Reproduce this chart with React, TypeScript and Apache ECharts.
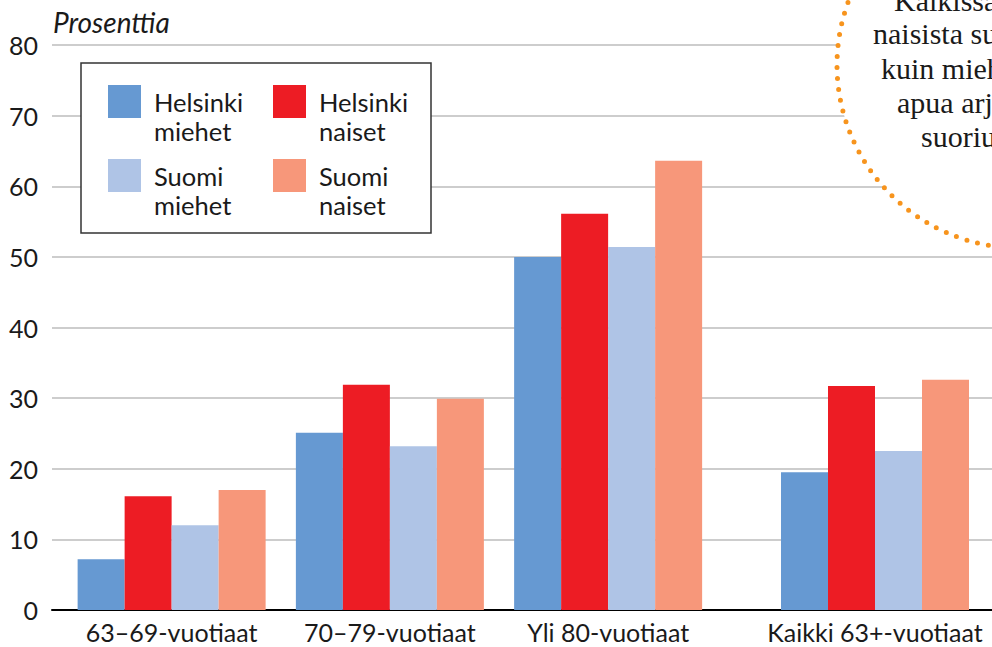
import React, { useEffect, useRef } from 'react';
import * as echarts from 'echarts';

const categories = ['63–69-vuotiaat', '70–79-vuotiaat', 'Yli 80-vuotiaat', 'Kaikki 63+-vuotiaat'];
const seriesNames = ['Helsinki miehet', 'Helsinki naiset', 'Suomi miehet', 'Suomi naiset'];
const helsinkiMiehet = [7.2, 25.1, 50.0, 19.5];
const helsinkiNaiset = [16.1, 31.9, 56.1, 31.7];
const suomiMiehet = [12.0, 23.2, 51.4, 22.5];
const suomiNaiset = [17.0, 29.9, 63.6, 32.6];
const yMin = 0;
const yMax = 80;
const yInterval = 10;
const yAxisTitle = 'Prosenttia';
const noteLines = [
  'Kaikissa ikäryhmissä',
  'naisista suurempi osa',
  'kuin miehistä tarvitsi',
  'apua arjen toimista',
  'suoriutumiseen.',
];

const colors = ['#6699D2', '#ED1C24', '#AFC4E6', '#F7977A'];
const FONT = 'Lato, "Noto Sans", sans-serif';
const TXT = '#1a1a1a';

export default function App() {
  const ref = useRef<HTMLDivElement>(null);
  useEffect(() => {
    document.body.style.margin = '0';
    if (!ref.current) return;
    const chart = echarts.init(ref.current, null, { renderer: 'svg' });
    const values = [helsinkiMiehet, helsinkiNaiset, suomiMiehet, suomiNaiset];
    const series: any[] = [];
    values.forEach((arr, i) => {
      series.push({
        type: 'bar',
        name: seriesNames[i],
        data: arr.slice(0, 3),
        xAxisIndex: 1,
        yAxisIndex: 1,
        barWidth: 47,
        barGap: '0%',
        itemStyle: { color: colors[i] },
        z: 2,
      });
      series.push({
        type: 'bar',
        name: seriesNames[i],
        data: arr.slice(3),
        xAxisIndex: 2,
        yAxisIndex: 2,
        barWidth: 47,
        barGap: '0%',
        itemStyle: { color: colors[i] },
        z: 2,
      });
    });

    const legendPos = [
      { left: 108, top: 58 },
      { left: 273, top: 58 },
      { left: 108, top: 132 },
      { left: 273, top: 132 },
    ];
    const legends = seriesNames.map((n, i) => ({
      data: [n],
      left: legendPos[i].left,
      top: legendPos[i].top,
      padding: 0,
      itemWidth: 33,
      itemHeight: 33,
      icon: 'rect',
      selectedMode: false,
      formatter: (name: string) => '\u00a0\n' + name.replace(' ', '\n'),
      textStyle: {
        fontFamily: FONT,
        fontSize: 25.5,
        lineHeight: 29,
        color: TXT,
        padding: [0, 0, 0, 8],
      },
      z: 5,
    }));

    const hiddenY = (gi: number) => ({
      type: 'value',
      gridIndex: gi,
      min: yMin,
      max: yMax,
      interval: yInterval,
      show: false,
    });
    const catX = (gi: number, data: string[]) => ({
      type: 'category',
      gridIndex: gi,
      data,
      axisLine: { show: false },
      axisTick: { show: false },
      axisLabel: {
        fontFamily: FONT,
        fontSize: 25,
        lineHeight: 25,
        color: TXT,
        margin: 9,
        interval: 0,
      },
    });

    chart.setOption({
      animation: false,
      grid: [
        { left: 52, right: 0, top: 45, bottom: 37 },
        { left: 62.5, width: 654.75, top: 45, bottom: 37 },
        { left: 766, width: 218, top: 45, bottom: 37 },
      ],
      xAxis: [
        {
          type: 'category',
          gridIndex: 0,
          data: [''],
          axisLine: { show: true, lineStyle: { color: '#000', width: 2 } },
          axisTick: { show: false },
          axisLabel: { show: false },
        },
        catX(1, categories.slice(0, 3)),
        catX(2, categories.slice(3)),
      ],
      yAxis: [
        {
          type: 'value',
          gridIndex: 0,
          min: yMin,
          max: yMax,
          interval: yInterval,
          axisLine: { show: false },
          axisTick: { show: false },
          axisLabel: { fontFamily: FONT, fontSize: 25, color: TXT, margin: 14 },
          splitLine: { lineStyle: { color: '#BDBDBD', width: 1.5 } },
        },
        hiddenY(1),
        hiddenY(2),
      ],
      legend: legends,
      graphic: [
        {
          type: 'text',
          left: 53,
          top: 8,
          z: 6,
          style: {
            text: yAxisTitle,
            fontFamily: FONT,
            fontSize: 28,
            fontStyle: 'italic',
            fill: TXT,
          },
        },
        {
          type: 'rect',
          shape: { x: 81, y: 63, width: 350, height: 170 },
          style: { fill: '#fff', stroke: '#333', lineWidth: 1.5 },
          z: 3,
        },
        {
          type: 'circle',
          shape: { cx: 1020, cy: 65, r: 183 },
          style: {
            fill: '#fff',
            stroke: '#F7941D',
            lineWidth: 5,
            lineDash: [0, 11],
            lineCap: 'round',
          },
          z: 3,
        },
        ...noteLines.map((t, i) => ({
          type: 'text',
          x: [894, 873, 881, 897, 921][i],
          y: [0, 33, 68, 102, 136][i],
          z: 6,
          style: {
            text: t,
            fontFamily: '"Liberation Serif", "DejaVu Serif", serif',
            fontSize: 30,
            fill: TXT,
            align: 'left',
            verticalAlign: 'middle',
          },
        })),
      ],
      series,
    });
    return () => chart.dispose();
  }, []);
  return <div ref={ref} style={{ width: 992, height: 647 }} />;
}
